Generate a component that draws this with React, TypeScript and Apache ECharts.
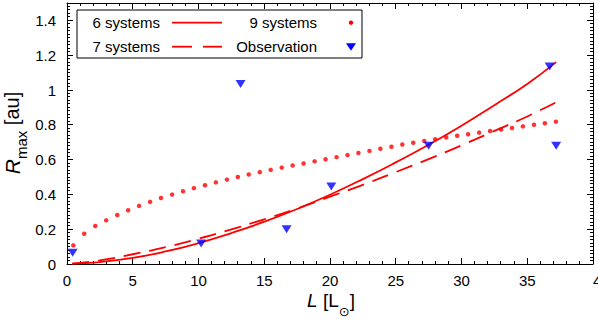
import React, { useEffect, useRef } from "react";
import * as echarts from "echarts";

const FONT = "'Liberation Sans', Arial, Helvetica, sans-serif";

// model curves
const modelL = [0.4, 2.5, 5, 7.5, 10, 12.5, 15, 17.5, 20, 22.5, 25, 27.5, 30, 32.5, 35, 37.2];
const sixSystems = [0.002, 0.011, 0.035, 0.072, 0.12, 0.178, 0.243, 0.316, 0.398, 0.488, 0.584, 0.685, 0.795, 0.913, 1.035, 1.16];
const sevenSystems = [0.002, 0.021, 0.056, 0.097, 0.145, 0.199, 0.257, 0.319, 0.387, 0.455, 0.528, 0.603, 0.682, 0.765, 0.848, 0.93];

// 9 systems (dotted)
const nineL = [
  0.48, 1.31, 2.15, 2.98, 3.82, 4.65, 5.48, 6.32, 7.15, 7.99, 8.82, 9.65,
  10.49, 11.32, 12.16, 12.99, 13.82, 14.66, 15.49, 16.33, 17.16, 17.99, 18.83,
  19.66, 20.5, 21.33, 22.16, 23.0, 23.83, 24.67, 25.5,
  26.33, 27.17, 28.0, 28.84, 29.67, 30.5, 31.34, 32.17, 33.01, 33.84, 34.67, 35.51, 36.34, 37.18,
];
const nineSystems = [
  0.107, 0.174, 0.218, 0.251, 0.282, 0.309, 0.334, 0.357, 0.379, 0.399, 0.418, 0.436,
  0.453, 0.469, 0.485, 0.5, 0.514, 0.528, 0.541, 0.554, 0.566, 0.578, 0.59,
  0.602, 0.614, 0.626, 0.638, 0.65, 0.662, 0.674, 0.687,
  0.697, 0.707, 0.717, 0.727, 0.737, 0.746, 0.755, 0.764, 0.773, 0.782, 0.791, 0.8, 0.809, 0.818,
];

// observations
const obsL = [0.43, 10.2, 13.2, 16.7, 20.1, 27.5, 36.7, 37.2];
const obsR = [0.065, 0.118, 1.035, 0.2, 0.445, 0.68, 1.135, 0.68];

const xTicks = { min: 0, max: 40, interval: 5 };
const yTicks = { min: 0, max: 1.5, interval: 0.2 };

// tick marks: x every 1 (major every 5), y every 0.02 (major every 0.2)
const xTickMarks: number[][] = [];
for (let i = 0; i <= 40; i++) xTickMarks.push([i, 0, i % 5 === 0 ? 1 : 0]);
const yTickMarks: number[][] = [];
for (let i = 0; i <= 75; i++) yTickMarks.push([0, +(i * 0.02).toFixed(2), i % 10 === 0 ? 1 : 0]);

const legendNames = ["6 systems", "7 systems", "9 systems", "Observation"];

const zip = (a: number[], b: number[]) => a.map((v, i) => [v, b[i]]);
const crisp = (v: number) => Math.round(v - 0.5) + 0.5;

export default function App() {
  const ref = useRef<HTMLDivElement>(null);
  useEffect(() => {
    if (!ref.current) return;
    const chart = echarts.init(ref.current, undefined, { renderer: "svg" });
    const black = "#000";
    const mkAxis = () => ({
      axisLine: { show: true, onZero: false, lineStyle: { color: black, width: 1 } },
      axisTick: { show: false },
      minorTick: { show: false },
      splitLine: { show: false },
    });
    const labelStyle = { color: black, fontSize: 15, fontFamily: FONT };
    const legX = 77, legY = 10, legW = 285, legH = 48;
    const row1 = 22.7, row2 = 46.7;
    const legText = (t: string, x: number, y: number) => ({
      type: "text", x, y, z: 11,
      style: { text: t, font: `15px ${FONT}`, fill: black, textAlign: "right", textVerticalAlign: "middle" },
    });
    const tickStyle = { stroke: black, lineWidth: 1 };
    chart.setOption({
      animation: false,
      backgroundColor: "#fff",
      grid: { left: 67, right: 5, top: 3, bottom: 58, containLabel: false, outerBoundsMode: "none" },
      xAxis: [
        {
          type: "value", ...xTicks, position: "bottom", ...mkAxis(),
          axisLabel: { ...labelStyle, margin: 9, alignMaxLabel: "left", showMaxLabel: true },
        },
        {
          type: "value", ...xTicks, position: "top", ...mkAxis(),
          axisLabel: { show: false },
        },
      ],
      yAxis: [
        {
          type: "value", ...yTicks, position: "left", ...mkAxis(),
          axisLabel: { ...labelStyle, margin: 11, showMaxLabel: false },
        },
        {
          type: "value", ...yTicks, position: "right", ...mkAxis(),
          axisLabel: { show: false },
        },
      ],
      series: [
        {
          name: "xticks", type: "custom", xAxisIndex: 0, yAxisIndex: 0, silent: true, z: 1,
          data: xTickMarks,
          renderItem: (_p: any, api: any) => {
            const v = api.value(0);
            const len = api.value(2) ? 6 : 3;
            const b = api.coord([v, yTicks.min]);
            const t = api.coord([v, yTicks.max]);
            const x = crisp(b[0]);
            return {
              type: "group",
              children: [
                { type: "line", shape: { x1: x, y1: b[1], x2: x, y2: b[1] - len }, style: tickStyle },
                { type: "line", shape: { x1: x, y1: t[1], x2: x, y2: t[1] + len }, style: tickStyle },
              ],
            };
          },
        },
        {
          name: "yticks", type: "custom", xAxisIndex: 0, yAxisIndex: 0, silent: true, z: 1,
          data: yTickMarks,
          renderItem: (_p: any, api: any) => {
            const v = api.value(1);
            const len = api.value(2) ? 6 : 3;
            const l = api.coord([xTicks.min, v]);
            const r = api.coord([xTicks.max, v]);
            const y = crisp(l[1]);
            return {
              type: "group",
              children: [
                { type: "line", shape: { x1: l[0], y1: y, x2: l[0] + len, y2: y }, style: tickStyle },
                { type: "line", shape: { x1: r[0], y1: y, x2: r[0] - len, y2: y }, style: tickStyle },
              ],
            };
          },
        },
        {
          name: legendNames[0], type: "line", xAxisIndex: 0, yAxisIndex: 0,
          data: zip(modelL, sixSystems), showSymbol: false, smooth: 0.5,
          lineStyle: { color: "#ff0000", width: 1.8 }, z: 3,
        },
        {
          name: legendNames[1], type: "line", xAxisIndex: 0, yAxisIndex: 0,
          data: zip(modelL, sevenSystems), showSymbol: false, smooth: 0.5,
          lineStyle: { color: "#ff0000", width: 1.8, type: [17, 9] }, z: 3,
        },
        {
          name: legendNames[2], type: "scatter", xAxisIndex: 0, yAxisIndex: 0,
          data: zip(nineL, nineSystems), symbol: "circle", symbolSize: 4.5,
          itemStyle: { color: "#ff0000" }, z: 4,
        },
        {
          name: legendNames[3], type: "scatter", xAxisIndex: 0, yAxisIndex: 0,
          data: zip(obsL, obsR), symbol: "triangle", symbolRotate: 180, symbolSize: [10, 8],
          itemStyle: { color: "#0000ff" }, z: 5,
        },
      ],
      graphic: [
        // axis titles
        {
          type: "text", x: 331, y: 304, z: 11,
          style: {
            text: "{i|L}{n| [L}{s|⊙}{n|]}",
            align: "center", verticalAlign: "middle",
            textAlign: "center", textVerticalAlign: "middle",
            fill: black, font: `19px ${FONT}`,
            rich: {
              i: { fontStyle: "italic", fontSize: 19, fontFamily: FONT, fill: black, color: black, verticalAlign: "top", lineHeight: 19 },
              n: { fontSize: 19, fontFamily: FONT, fill: black, color: black, verticalAlign: "top", lineHeight: 19 },
              s: { fontSize: 13, fontFamily: "DejaVu Sans", fill: black, color: black, verticalAlign: "bottom", lineHeight: 27 },
            },
          },
        },
        {
          type: "text", x: 15, y: 133, rotation: Math.PI / 2, z: 11,
          style: {
            text: "{i|R}{s|max}{n| [au]}",
            align: "center", verticalAlign: "middle",
            textAlign: "center", textVerticalAlign: "middle",
            fill: black, font: `20px ${FONT}`,
            rich: {
              i: { fontStyle: "italic", fontSize: 21, fontFamily: FONT, fill: black, color: black, verticalAlign: "top", lineHeight: 21 },
              n: { fontSize: 20, fontFamily: FONT, fill: black, color: black, verticalAlign: "top", lineHeight: 21 },
              s: { fontSize: 15, fontFamily: FONT, fill: black, color: black, verticalAlign: "bottom", lineHeight: 27 },
            },
          },
        },
        // legend box
        { type: "rect", shape: { x: legX, y: legY, width: legW, height: legH }, style: { fill: "#fff", stroke: black, lineWidth: 1 }, z: 10 },
        legText(legendNames[0], 160, row1),
        legText(legendNames[1], 160, row2),
        legText(legendNames[2], 317, row1),
        legText(legendNames[3], 317, row2),
        { type: "line", shape: { x1: 172, y1: row1, x2: 222, y2: row1 }, style: { stroke: "#ff0000", lineWidth: 1.8 }, z: 11 },
        { type: "line", shape: { x1: 172, y1: row2, x2: 192, y2: row2 }, style: { stroke: "#ff0000", lineWidth: 1.8 }, z: 11 },
        { type: "line", shape: { x1: 203, y1: row2, x2: 222, y2: row2 }, style: { stroke: "#ff0000", lineWidth: 1.8 }, z: 11 },
        { type: "circle", shape: { cx: 351, cy: row1, r: 2.2 }, style: { fill: "#ff0000" }, z: 11 },
        { type: "polygon", shape: { points: [[346, row2 - 3.5], [356, row2 - 3.5], [351, row2 + 4]] }, style: { fill: "#0000ff" }, z: 11 },
      ],
    });
    return () => chart.dispose();
  }, []);
  return (
    <div
      ref={ref}
      style={{ position: "absolute", left: 0, top: 0, width: 598, height: 322, overflow: "hidden" }}
    />
  );
}
